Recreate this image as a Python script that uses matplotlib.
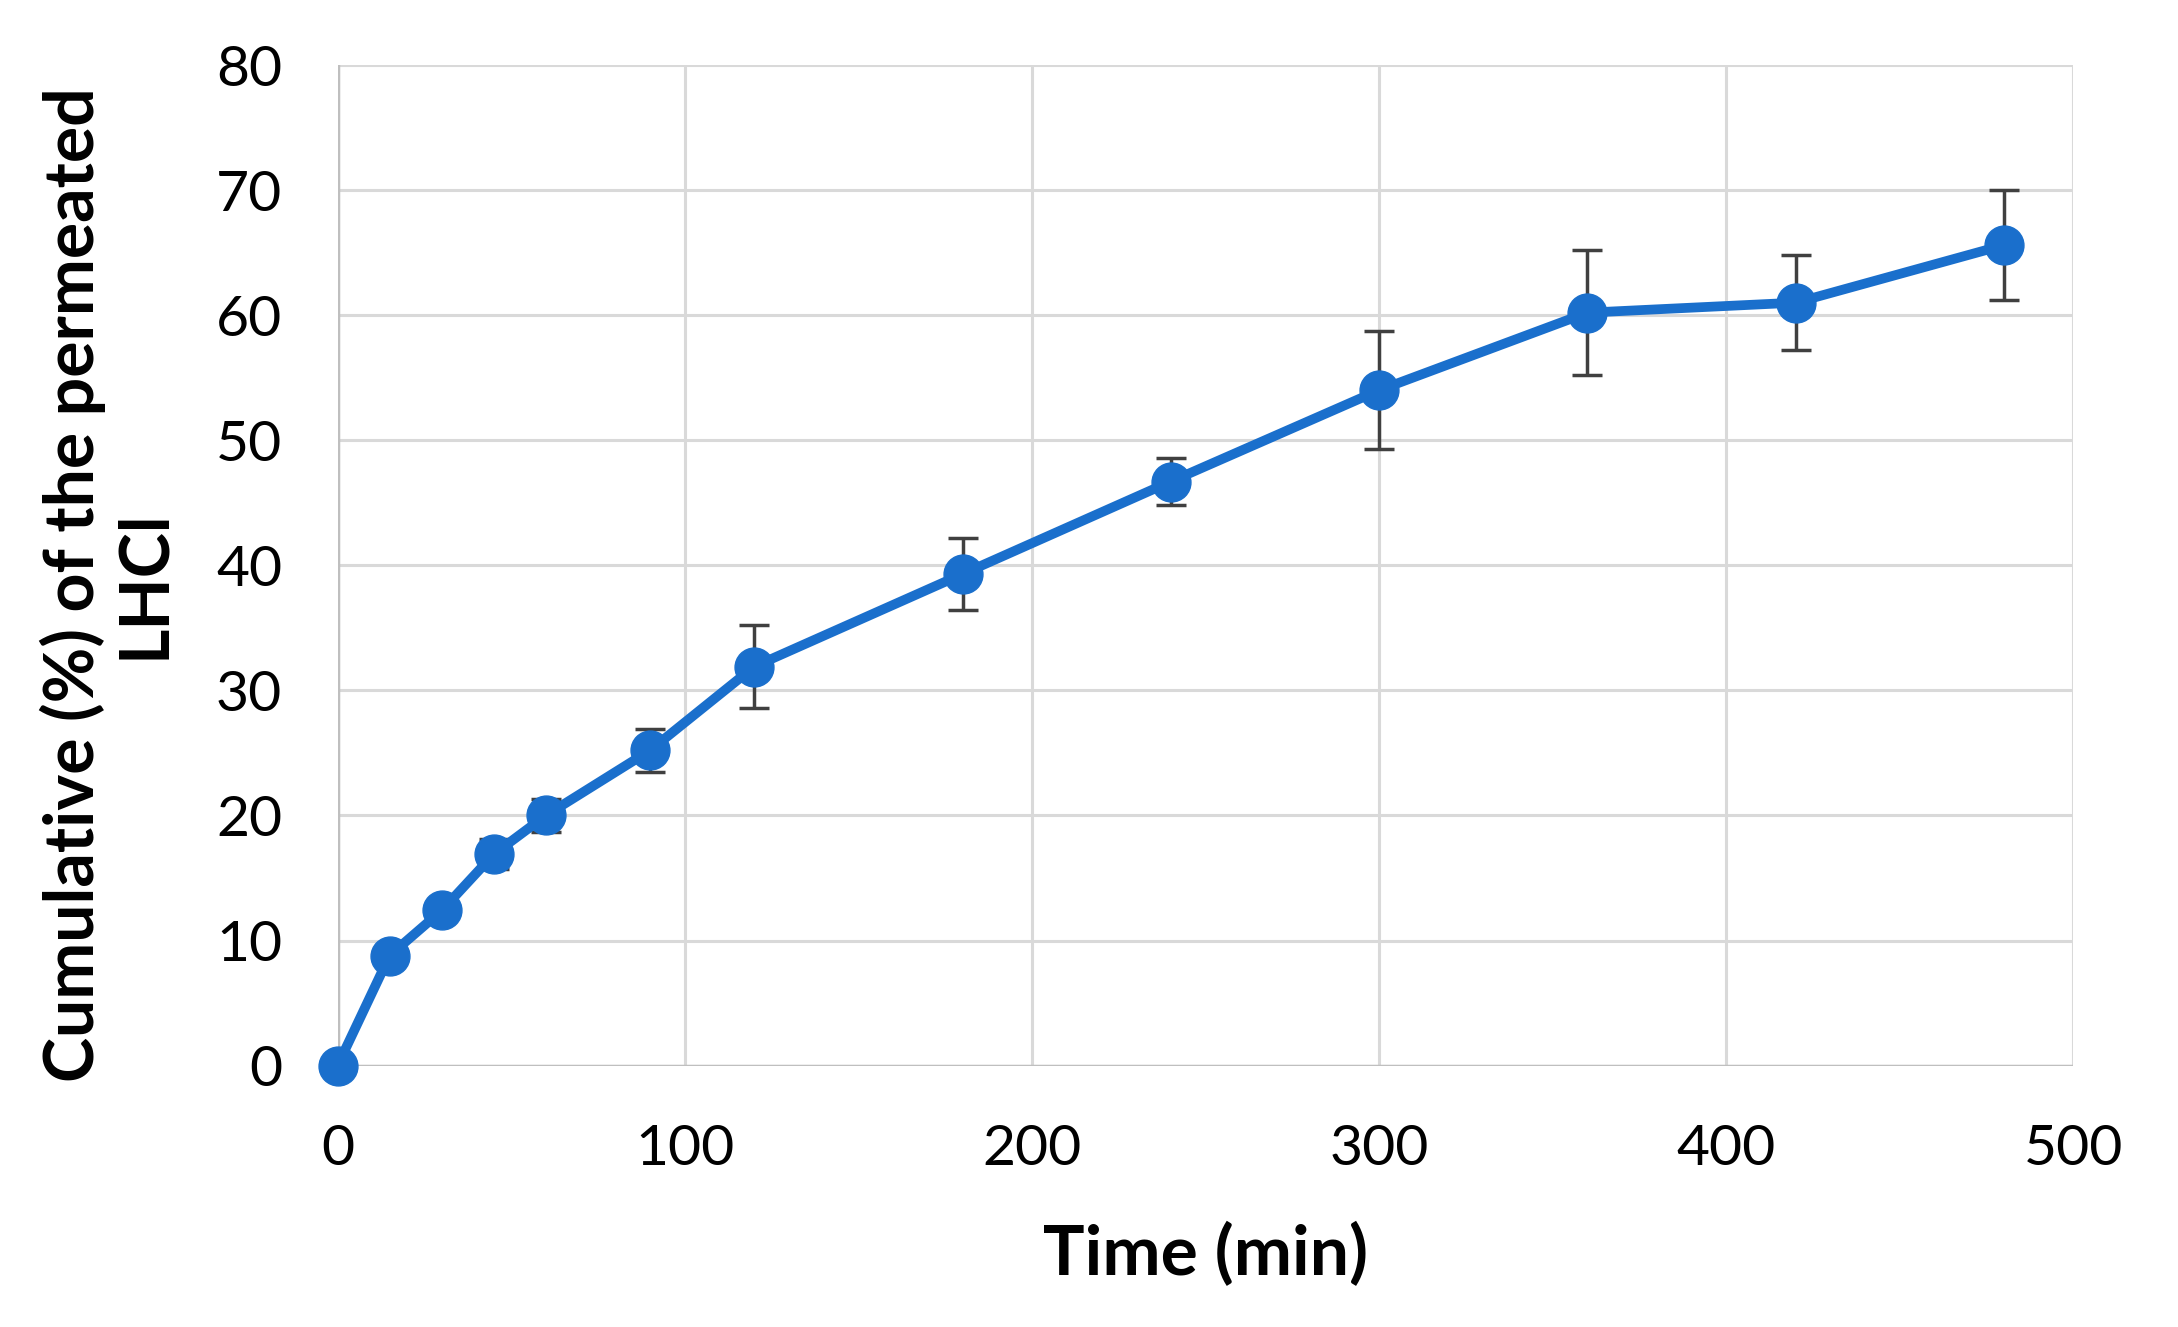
import numpy as np
import matplotlib.pyplot as plt

# permeation data
time_min = [0, 15, 30, 45, 60, 90, 120, 180, 240, 300, 360, 420, 480]
cum_pct = [0, 8.8, 12.4, 16.9, 20.0, 25.2, 31.9, 39.3, 46.7, 54.0, 60.2, 61.0, 65.6]
sd_pct = [0, 0.5, 0.6, 1.2, 1.3, 1.7, 3.3, 2.9, 1.9, 4.7, 5.0, 3.8, 4.4]

plt.rcParams['font.family'] = ['Lato', 'DejaVu Sans']

fig = plt.figure(figsize=(21.78, 13.27), dpi=100)
ax = fig.add_axes([0.155, 0.197, 0.797, 0.754])

blue = '#1a6fcc'
ax.errorbar(time_min, cum_pct, yerr=sd_pct, fmt='none', ecolor='#404040',
            elinewidth=2.5, capsize=11, capthick=2.5, zorder=3)
ax.plot(time_min, cum_pct, color=blue, lw=7, marker='o', markersize=28,
        zorder=4, clip_on=False)

ax.set_xlim(0, 500)
ax.set_ylim(0, 80)
ax.set_xticks(np.arange(0, 501, 100))
ax.set_yticks(np.arange(0, 81, 10))
ax.grid(True, color='#d9d9d9', lw=2.2, zorder=0)
ax.set_axisbelow(True)
for s in ax.spines.values():
    s.set_visible(False)
ax.axvline(0, color='#bfbfbf', lw=2.5, zorder=1)
ax.axhline(0, color='#bfbfbf', lw=2.5, zorder=1)
ax.tick_params(length=0, labelsize=41)
ax.tick_params(axis='x', pad=42)
ax.tick_params(axis='y', pad=40)

ax.set_xlabel('Time (min)', fontsize=50, fontweight='bold', labelpad=34)
ax.set_ylabel('Cumulative (%) of the permeated\nLHCl', fontsize=49,
              fontweight='bold', linespacing=1.15)
ax.yaxis.set_label_coords(-0.093, 0.481)

fig.savefig('out.png', dpi=100, facecolor='white')
